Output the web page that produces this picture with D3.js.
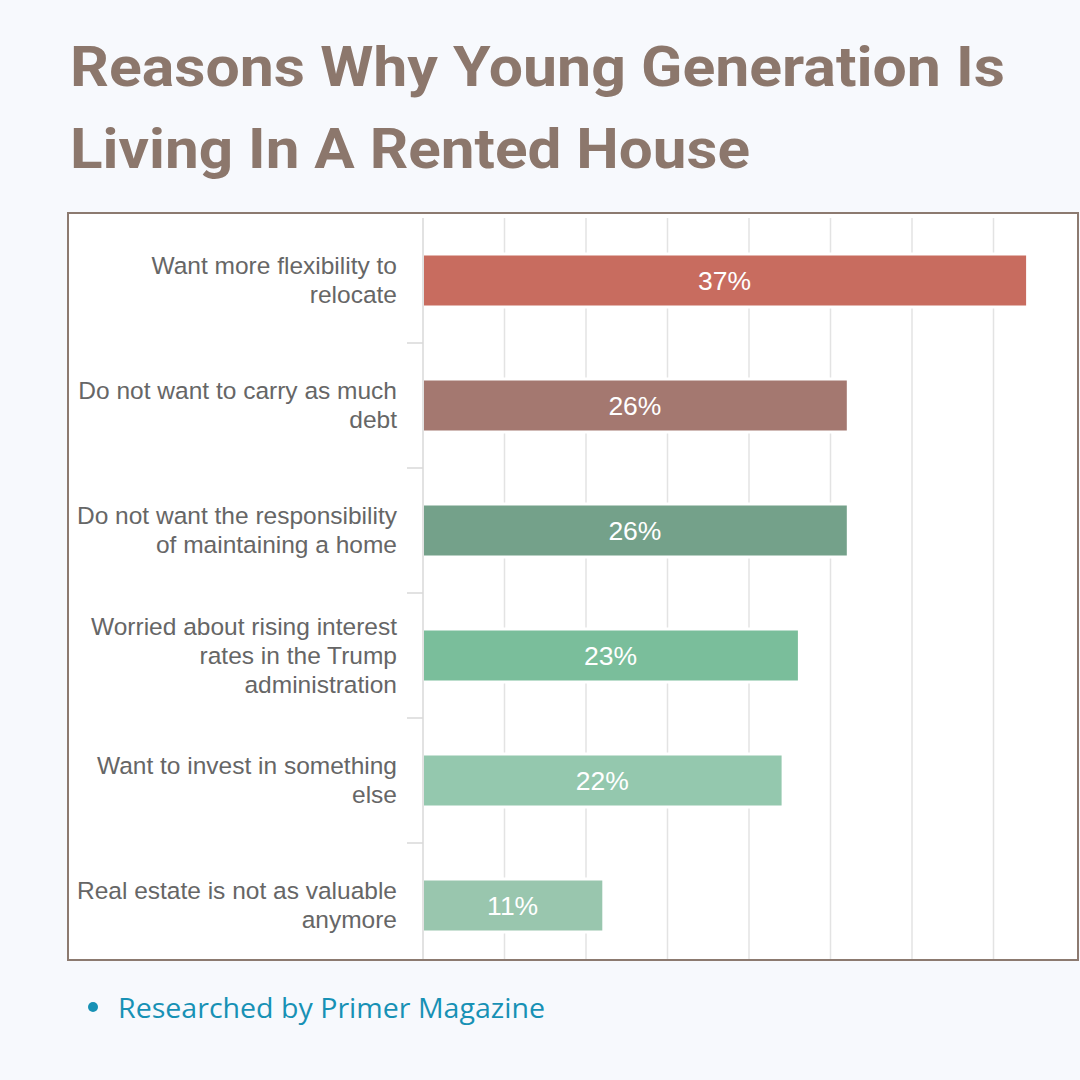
<!DOCTYPE html>
<html>
<head>
<meta charset="utf-8">
<script src="https://cdn.jsdelivr.net/npm/d3@7"></script>
<style>
  html, body { margin: 0; padding: 0; background: #f7f9fd; }
  svg { display: block; }
</style>
</head>
<body>
<svg id="chart" width="1080" height="1080"></svg>
<script>
// ---- data ----
const categories = [
  ["Want more flexibility to", "relocate"],
  ["Do not want to carry as much", "debt"],
  ["Do not want the responsibility", "of maintaining a home"],
  ["Worried about rising interest", "rates in the Trump", "administration"],
  ["Want to invest in something", "else"],
  ["Real estate is not as valuable", "anymore"]
];
const values = [37, 26, 26, 23, 22, 11];
const barColors = ["#c86c5f", "#a47870", "#74a18a", "#7abe9b", "#94c8ae", "#99c6ae"];
const xTicks = [0, 5, 10, 15, 20, 25, 30, 35];
const titleLines = ["Reasons Why Young Generation Is", "Living In A Rented House"];
const sourceText = "Researched by Primer Magazine";

const svg = d3.select("#chart");

// background
svg.append("rect").attr("width", 1080).attr("height", 1080).attr("fill", "#f7f9fd");

// title
const titleWidths = [935, 680];
svg.selectAll("text.title").data(titleLines).join("text")
  .attr("class", "title")
  .attr("x", 70)
  .attr("y", (d, i) => 86 + i * 82)
  .attr("font-family", "Roboto, 'Open Sans', sans-serif")
  .attr("font-weight", 700)
  .attr("font-size", 56)
  .attr("fill", "#8c776c")
  .attr("textLength", (d, i) => titleWidths[i])
  .attr("lengthAdjust", "spacingAndGlyphs")
  .text(d => d);

// chart box
svg.append("rect")
  .attr("x", 68).attr("y", 213).attr("width", 1010).attr("height", 747)
  .attr("fill", "#ffffff").attr("stroke", "#8c7a70").attr("stroke-width", 2);

const plotTop = 218, plotBottom = 968, clipBottom = 959;
const x = d3.scaleLinear().domain([0, 40]).range([423, 1075]);
const y = d3.scaleBand().domain(d3.range(categories.length))
  .range([plotTop, plotBottom]).paddingInner(0.6).paddingOuter(0.3);

const g = svg.append("g");

// gridlines
g.selectAll("line.grid").data(xTicks.slice(1)).join("line")
  .attr("class", "grid")
  .attr("x1", d => x(d)).attr("x2", d => x(d))
  .attr("y1", plotTop).attr("y2", clipBottom)
  .attr("stroke", "#e3e3e3").attr("stroke-width", 1.5);

// axis line
g.append("line")
  .attr("x1", x(0)).attr("x2", x(0))
  .attr("y1", plotTop).attr("y2", clipBottom)
  .attr("stroke", "#d9d9d9").attr("stroke-width", 1.5);

// band separator ticks
const bounds = d3.range(1, categories.length).map(i => plotTop + i * y.step());
g.selectAll("line.tick").data(bounds).join("line")
  .attr("class", "tick")
  .attr("x1", 407).attr("x2", x(0))
  .attr("y1", d => d).attr("y2", d => d)
  .attr("stroke", "#d9d9d9").attr("stroke-width", 1.5);

// white halos behind bars (gaps in gridlines)
g.selectAll("rect.halo").data(values).join("rect")
  .attr("class", "halo")
  .attr("x", x(0) + 1)
  .attr("y", (d, i) => y(i) - 3)
  .attr("width", d => x(d) - x(0) + 1)
  .attr("height", y.bandwidth() + 6)
  .attr("fill", "#ffffff");

// bars
g.selectAll("rect.bar").data(values).join("rect")
  .attr("class", "bar")
  .attr("x", x(0) + 1)
  .attr("y", (d, i) => y(i))
  .attr("width", d => x(d) - x(0) - 1)
  .attr("height", y.bandwidth())
  .attr("fill", (d, i) => barColors[i]);

// value labels
g.selectAll("text.val").data(values).join("text")
  .attr("class", "val")
  .attr("x", d => (x(0) + x(d)) / 2)
  .attr("y", (d, i) => y(i) + y.bandwidth() / 2 + 9.5)
  .attr("text-anchor", "middle")
  .attr("font-family", "'Liberation Sans', Arial, sans-serif")
  .attr("font-size", 26.5)
  .attr("fill", "#ffffff")
  .text(d => d + "%");

// category labels
const lineH = 29;
const lab = g.selectAll("text.cat").data(categories).join("text")
  .attr("class", "cat")
  .attr("text-anchor", "end")
  .attr("font-family", "'Liberation Sans', Arial, sans-serif")
  .attr("font-size", 24.5)
  .attr("fill", "#666666");
lab.each(function(lines, i) {
  const cy = y(i) + y.bandwidth() / 2;
  const startY = cy - (lines.length - 1) * lineH / 2 + 8;
  d3.select(this).selectAll("tspan").data(lines).join("tspan")
    .attr("x", 397)
    .attr("y", (d, j) => startY + j * lineH)
    .text(d => d);
});

// footer
svg.append("circle").attr("cx", 93).attr("cy", 1007).attr("r", 5).attr("fill", "#1791b5");
svg.append("text")
  .attr("x", 118).attr("y", 1018)
  .attr("font-family", "'Open Sans', 'Noto Sans', sans-serif")
  .attr("font-size", 27)
  .attr("fill", "#1791b5")
  .attr("textLength", 427)
  .attr("lengthAdjust", "spacingAndGlyphs")
  .text(sourceText);
</script>
</body>
</html>
